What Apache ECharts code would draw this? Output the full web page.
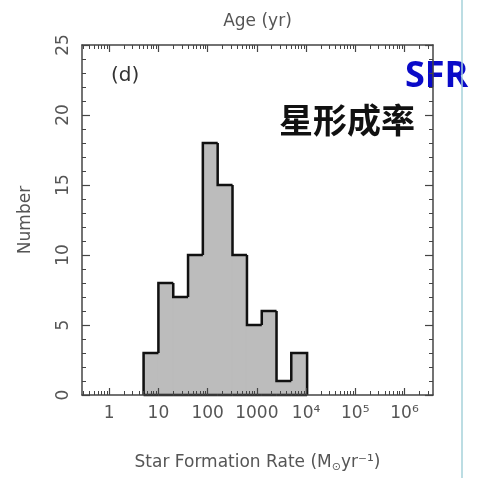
<!DOCTYPE html>
<html>
<head>
<meta charset="utf-8">
<script src="https://cdn.jsdelivr.net/npm/echarts@6/dist/echarts.min.js"></script>
<style>html,body{margin:0;padding:0;background:#fff;}#c{width:479px;height:478px;}</style>
</head>
<body>
<div id="c"></div>
<script>
// Histogram bins (SFR in Msun/yr), log-spaced ~0.3 dex
const binLow  = [5, 10, 20, 40, 80, 160, 320, 630, 1260, 2510, 5010];
const binHigh = [10, 20, 40, 80, 160, 320, 630, 1260, 2510, 5010, 10500];
const counts  = [3, 8, 7, 10, 18, 15, 10, 5, 6, 1, 3];

const xMajorTicks = [1, 10, 100, 1000, 1e4, 1e5, 1e6];
const xTickLabels = ['1', '10', '100', '1000', '10\u2074', '10\u2075', '10\u2076'];
const minorMultipliers = [2, 3, 4, 5, 6, 7, 8, 9];
const minorDecades = [0.1, 1, 10, 100, 1000, 1e4, 1e5, 1e6];
const yTicks = [0, 5, 10, 15, 20, 25];

const xMin = 0.28, xMax = 3.8e6;
const minorTicks = [];
minorDecades.forEach(d => minorMultipliers.forEach(m => {
  const v = m * d;
  if (v > xMin && v < xMax) minorTicks.push(v);
}));

const data = binLow.map((lo, i) => [lo, binHigh[i], counts[i], i > 0 ? counts[i - 1] : 0, i === binLow.length - 1 ? 1 : 0]);

const FONT = 'DejaVu Sans';
const labelColor = '#555';
const lineColor = '#444';
const barFill = '#bcbcbc';

function fmtX(v) {
  const k = Math.round(Math.log10(v));
  const idx = xMajorTicks.findIndex(t => Math.round(Math.log10(t)) === k);
  return idx >= 0 ? xTickLabels[idx] : '';
}

const baseX = {
  type: 'log', logBase: 10, min: xMin, max: xMax, z: 5,
  splitLine: { show: false }, minorTick: { show: false }, minorSplitLine: { show: false }
};

const chart = echarts.init(document.getElementById('c'), null, { renderer: 'canvas' });
chart.setOption({
  animation: false,
  grid: { left: 82, right: 46, top: 45, bottom: 81 },
  xAxis: [
    Object.assign({}, baseX, {
      position: 'bottom',
      name: 'Star Formation Rate (M{s|\u2299}yr\u207B\u00B9)',
      nameLocation: 'middle', nameGap: 57,
      nameTextStyle: { fontFamily: FONT, fontSize: 17, color: labelColor,
        rich: { s: { fontFamily: FONT, fontSize: 11, color: labelColor, padding: [10, 0, 0, 0] } } },
      axisLine: { show: true, lineStyle: { color: lineColor, width: 1.5 } },
      axisTick: { show: true, inside: true, length: 7, customValues: xMajorTicks, lineStyle: { color: lineColor, width: 1.2 } },
      axisLabel: { show: true, customValues: xMajorTicks, formatter: fmtX, margin: 10,
        fontFamily: FONT, fontSize: 17, color: labelColor }
    }),
    Object.assign({}, baseX, {
      position: 'bottom',
      axisLine: { show: false },
      axisTick: { show: true, inside: true, length: 4, customValues: minorTicks, lineStyle: { color: lineColor, width: 1 } },
      axisLabel: { show: false }
    }),
    Object.assign({}, baseX, {
      position: 'top',
      name: 'Age (yr)', nameLocation: 'middle', nameGap: 15,
      nameTextStyle: { fontFamily: FONT, fontSize: 17, color: labelColor },
      axisLine: { show: true, lineStyle: { color: lineColor, width: 1.5 } },
      axisTick: { show: true, inside: true, length: 7, customValues: xMajorTicks, lineStyle: { color: lineColor, width: 1.2 } },
      axisLabel: { show: false }
    }),
    Object.assign({}, baseX, {
      position: 'top',
      axisLine: { show: false },
      axisTick: { show: true, inside: true, length: 4, customValues: minorTicks, lineStyle: { color: lineColor, width: 1 } },
      axisLabel: { show: false }
    })
  ],
  yAxis: [
    {
      type: 'value', min: 0, max: 25, interval: 5, position: 'left', z: 5,
      name: 'Number', nameLocation: 'middle', nameGap: 48,
      nameTextStyle: { fontFamily: FONT, fontSize: 17, color: labelColor },
      axisLine: { show: true, lineStyle: { color: lineColor, width: 1.5 } },
      axisTick: { show: true, inside: true, length: 8, lineStyle: { color: lineColor, width: 1.2 } },
      minorTick: { show: true, splitNumber: 5, length: 4, lineStyle: { color: lineColor, width: 1 } },
      axisLabel: { show: true, rotate: 90, margin: 10, fontFamily: FONT, fontSize: 17, color: labelColor,
        formatter: v => String(yTicks[yTicks.indexOf(v)]) },
      splitLine: { show: false }
    },
    {
      type: 'value', min: 0, max: 25, interval: 5, position: 'right', z: 5,
      axisLine: { show: true, lineStyle: { color: lineColor, width: 1.5 } },
      axisTick: { show: true, inside: true, length: 8, lineStyle: { color: lineColor, width: 1.2 } },
      minorTick: { show: true, splitNumber: 5, length: 4, lineStyle: { color: lineColor, width: 1 } },
      axisLabel: { show: false },
      splitLine: { show: false }
    }
  ],
  series: [{
    type: 'custom',
    xAxisIndex: 0, yAxisIndex: 0,
    z: 1,
    data: data,
    encode: { x: [0, 1], y: 2 },
    renderItem: function (params, api) {
      const lo = api.value(0), hi = api.value(1), c = api.value(2), p = api.value(3), last = api.value(4);
      const tl = api.coord([lo, c]);
      const br = api.coord([hi, 0]);
      const pl = api.coord([lo, p]);
      const pts = [[pl[0], pl[1]], [tl[0], tl[1]], [br[0], tl[1]]];
      if (last) pts.push([br[0], br[1]]);
      return {
        type: 'group',
        children: [
          { type: 'rect', shape: { x: tl[0] - 0.5, y: tl[1], width: br[0] - tl[0] + 1, height: br[1] - tl[1] },
            style: { fill: barFill, stroke: barFill, lineWidth: 1 } },
          { type: 'polyline', z2: 10, shape: { points: pts }, style: { fill: null, stroke: '#111', lineWidth: 2.5 } },
          { type: 'line', z2: 10, shape: { x1: tl[0], y1: br[1], x2: br[0], y2: br[1] }, style: { stroke: '#111', lineWidth: 2.5 } }
        ]
      };
    }
  }],
  graphic: [
    { type: 'text', left: 111, top: 66, style: { text: '(d)', fontFamily: FONT, fontSize: 20, fill: '#333' } },
    { type: 'text', left: 405, top: 59, style: { text: 'SFR', fontFamily: 'Open Sans', fontWeight: 'bold', fontSize: 36, fill: '#0a0ac8' } },
    { type: 'text', left: 279, top: 103, style: { text: '星形成率', fontFamily: 'Noto Sans CJK SC', fontWeight: 'bold', fontSize: 34, fill: '#111' } },
    { type: 'line', shape: { x1: 462, y1: 0, x2: 462, y2: 478 }, style: { stroke: '#a6d2da', lineWidth: 1.5 } }
  ]
});
</script>
</body>
</html>
